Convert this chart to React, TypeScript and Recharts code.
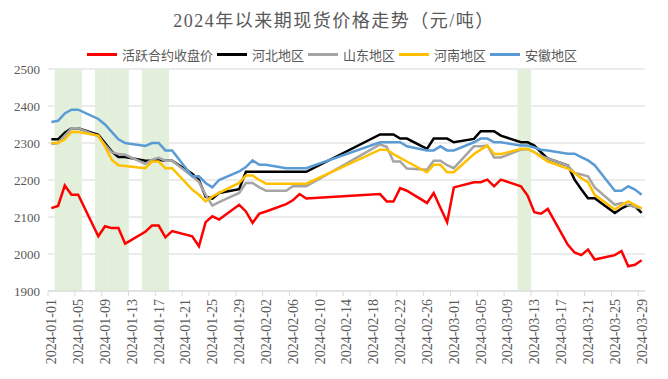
import { ComposedChart, Bar, Line, XAxis, YAxis, CartesianGrid, Legend } from 'recharts'

const FONT = '"Liberation Serif", "Noto Sans CJK SC", serif'
const TEXT = '#595959'
const GRID = '#D9D9D9'

// trading days shown on the chart
const tradeDates = [
  '2024-01-01', '2024-01-02', '2024-01-03', '2024-01-04', '2024-01-05',
  '2024-01-08', '2024-01-09', '2024-01-10', '2024-01-11', '2024-01-12',
  '2024-01-15', '2024-01-16', '2024-01-17', '2024-01-18', '2024-01-19',
  '2024-01-22', '2024-01-23', '2024-01-24', '2024-01-25', '2024-01-26',
  '2024-01-29', '2024-01-30', '2024-01-31', '2024-02-01', '2024-02-02',
  '2024-02-05', '2024-02-06', '2024-02-07', '2024-02-08',
  '2024-02-19', '2024-02-20', '2024-02-21', '2024-02-22', '2024-02-23',
  '2024-02-26', '2024-02-27', '2024-02-28', '2024-02-29', '2024-03-01',
  '2024-03-04', '2024-03-05', '2024-03-06', '2024-03-07', '2024-03-08',
  '2024-03-11', '2024-03-12', '2024-03-13', '2024-03-14', '2024-03-15',
  '2024-03-18', '2024-03-19', '2024-03-20', '2024-03-21', '2024-03-22',
  '2024-03-25', '2024-03-26', '2024-03-27', '2024-03-28', '2024-03-29',
]

const futures = [
  2124, 2130, 2185, 2160, 2160,
  2048, 2075, 2070, 2070, 2028,
  2060, 2077, 2077, 2045, 2062,
  2048, 2021, 2086, 2102, 2093,
  2133, 2115, 2084, 2109, 2115,
  2135, 2145, 2162, 2150,
  2162, 2142, 2142, 2178, 2171,
  2138, 2165, 2125, 2086, 2180,
  2194, 2194, 2201, 2183, 2201,
  2183, 2158, 2113, 2109, 2122,
  2025, 2004, 1997, 2012, 1985,
  1997, 2008, 1967, 1971, 1983,
]

const hebei = [
  2310, 2310, 2328, 2340, 2340,
  2322, 2300, 2277, 2262, 2262,
  2252, 2252, 2255, 2252, 2252,
  2217, 2200, 2155, 2150, 2165,
  2175, 2222, 2222, 2222, 2222,
  2222, 2222, 2222, 2222,
  2323, 2323, 2323, 2312, 2312,
  2284, 2312, 2312, 2312, 2302,
  2311, 2332, 2332, 2332, 2320,
  2302, 2302, 2293, 2275, 2258,
  2239, 2201, 2175, 2151, 2151,
  2111, 2123, 2132, 2129, 2111,
]

const shandong = [
  2297, 2300, 2320, 2340, 2340,
  2318, 2295, 2275, 2270, 2268,
  2244, 2255, 2260, 2252, 2252,
  2210, 2195, 2160, 2131, 2140,
  2165, 2192, 2192, 2180, 2171,
  2171, 2183, 2183, 2183,
  2296, 2290, 2250, 2250, 2231,
  2228, 2252, 2252, 2240, 2232,
  2291, 2291, 2293, 2261, 2261,
  2282, 2284, 2275, 2265, 2258,
  2239, 2219, 2215, 2210, 2180,
  2133, 2138, 2132, 2127, 2123,
]

const henan = [
  2300, 2300, 2310, 2330, 2330,
  2320, 2290, 2255, 2240, 2238,
  2232, 2250, 2250, 2232, 2232,
  2174, 2160, 2142, 2155, 2165,
  2192, 2212, 2212, 2200, 2190,
  2190, 2190, 2190, 2190,
  2282, 2282, 2270, 2260, 2250,
  2221, 2241, 2241, 2221, 2221,
  2270, 2282, 2293, 2270, 2270,
  2284, 2284, 2275, 2262, 2250,
  2231, 2219, 2205, 2194, 2160,
  2120, 2132, 2142, 2132, 2123,
]

const anhui = [
  2357, 2360, 2380, 2390, 2390,
  2365, 2350, 2330, 2310, 2300,
  2292, 2300, 2300, 2280, 2280,
  2210, 2210, 2192, 2180, 2200,
  2223, 2235, 2253, 2241, 2241,
  2232, 2232, 2232, 2232,
  2302, 2302, 2302, 2302, 2291,
  2280, 2280, 2291, 2280, 2280,
  2302, 2312, 2312, 2302, 2302,
  2293, 2293, 2288, 2282, 2280,
  2271, 2271, 2262, 2253, 2240,
  2171, 2171, 2183, 2174, 2160,
]

// shaded days (green columns)
const bandDates = [
  '2024-01-02', '2024-01-03', '2024-01-04', '2024-01-05',
  '2024-01-08', '2024-01-09', '2024-01-10', '2024-01-11', '2024-01-12',
  '2024-01-15', '2024-01-16', '2024-01-17', '2024-01-18',
  '2024-03-11', '2024-03-12',
]
const bandTop = 2500

const yTicks = [1900, 2000, 2100, 2200, 2300, 2400, 2500]

const series = [
  { key: 'futures', name: '活跃合约收盘价', color: '#FF0000', values: futures },
  { key: 'hebei', name: '河北地区', color: '#000000', values: hebei },
  { key: 'shandong', name: '山东地区', color: '#A5A5A5', values: shandong },
  { key: 'henan', name: '河南地区', color: '#FFC000', values: henan },
  { key: 'anhui', name: '安徽地区', color: '#5B9BD5', values: anhui },
]

// calendar axis: every day from 2024-01-01 to 2024-03-29
const calendar: string[] = []
for (let t = Date.UTC(2024, 0, 1); t <= Date.UTC(2024, 2, 29); t += 86400000) {
  calendar.push(new Date(t).toISOString().slice(0, 10))
}

const rows = calendar.map((date) => {
  const row: Record<string, string | number | null> = { date }
  const i = tradeDates.indexOf(date)
  series.forEach((s) => {
    row[s.key] = i >= 0 ? s.values[i] : null
  })
  row.band = bandDates.includes(date) ? bandTop : null
  return row
})

const W = 668
const H = 379
const M = { top: 69, right: 23, bottom: 0, left: 0 }
const Y_W = 48
const BW = (W - M.left - M.right - Y_W) / calendar.length

const DateTick = (props: any) => {
  const { x, y, payload } = props
  return (
    <g>
      <line x1={x - BW / 2} y1={y} x2={x - BW / 2} y2={y + 5} stroke={GRID} />
      <text
        transform={`translate(${x},${y + 8}) rotate(-90)`}
        textAnchor="end"
        dy="0.35em"
        fontSize={14}
        fill={TEXT}
        fontFamily={FONT}
      >
        {payload.value}
      </text>
    </g>
  )
}

// legend in series order, the band column is left out
const LegendRow = () => (
  <div style={{ display: 'flex', justifyContent: 'center', alignItems: 'center', fontSize: 13, color: TEXT, fontFamily: FONT }}>
    {series.map((s) => (
      <span key={s.key} style={{ display: 'flex', alignItems: 'center', marginRight: 4 }}>
        <span style={{ display: 'inline-block', width: 30, height: 3, background: s.color, marginRight: 5 }} />
        {s.name}
      </span>
    ))}
  </div>
)

export default function App() {
  return (
    <div style={{ position: 'relative', width: W, height: H, background: '#fff' }}>
      <style>{'body{margin:0}'}</style>
      <div
        style={{
          position: 'absolute', top: 9, left: 0, width: W, textAlign: 'center',
          fontSize: 18, letterSpacing: 1.5, color: TEXT, fontFamily: FONT, lineHeight: '24px',
        }}
      >
        2024年以来期现货价格走势（元/吨）
      </div>
      <ComposedChart width={W} height={H} data={rows} margin={M} barCategoryGap={0}>
        <CartesianGrid vertical={false} stroke={GRID} />
        <XAxis
          dataKey="date"
          interval={3}
          height={88}
          tickLine={false}
          tickSize={0}
          tickMargin={0}
          axisLine={{ stroke: GRID }}
          tick={<DateTick />}
        />
        <YAxis
          width={Y_W}
          domain={[1900, 2500]}
          ticks={yTicks}
          allowDataOverflow
          axisLine={false}
          tickLine={false}
          tick={{ fontSize: 13, fill: TEXT, fontFamily: FONT }}
        />
        <Legend
          verticalAlign="middle"
          align="center"
          wrapperStyle={{ top: 45, left: 0, width: W }}
          content={<LegendRow />}
        />
        <Bar dataKey="band" fill="#E2EFDA" legendType="none" isAnimationActive={false} />
        {series.map((s) => (
          <Line
            key={s.key}
            type="linear"
            dataKey={s.key}
            name={s.name}
            stroke={s.color}
            strokeWidth={2.5}
            dot={false}
            connectNulls
            isAnimationActive={false}
          />
        ))}
      </ComposedChart>
    </div>
  )
}
